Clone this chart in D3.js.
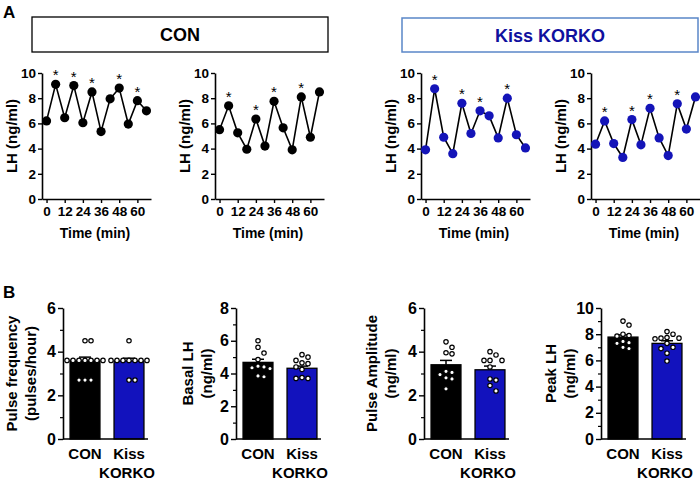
<!DOCTYPE html>
<html>
<head>
<meta charset="utf-8">
<script src="https://cdn.jsdelivr.net/npm/d3@7"></script>
<style>
  body { margin: 0; background: #fff; }
  svg { font-family: Arial, "Liberation Sans", sans-serif; font-weight: bold; }
</style>
</head>
<body>
<div id="chart"></div>
<script>
var svgWidth = 700;
var svgHeight = 486;

// Panel A: LH time series (ng/ml), sampled every 6 min
var times = [0, 6, 12, 18, 24, 30, 36, 42, 48, 54, 60, 66];
var timeTicks = [0, 12, 24, 36, 48, 60];
var conLH1 = [6.2, 9.1, 6.45, 9.0, 6.05, 8.5, 5.35, 7.95, 8.8, 5.95, 7.8, 7.0];
var conLH2 = [5.5, 7.4, 5.25, 3.95, 6.35, 4.2, 7.75, 5.65, 3.9, 8.1, 4.9, 8.5];
var korkoLH1 = [3.9, 8.75, 4.9, 3.6, 7.6, 5.2, 7.0, 6.6, 4.85, 8.0, 5.1, 4.05];
var korkoLH2 = [4.35, 6.2, 4.4, 3.3, 6.3, 4.3, 7.2, 4.85, 3.45, 7.55, 5.55, 8.1];
// indices of detected pulses (asterisks)
var conPulses1 = [1, 3, 5, 8, 10];
var conPulses2 = [1, 4, 6, 9];
var korkoPulses1 = [1, 4, 6, 9];
var korkoPulses2 = [1, 4, 6, 9];

// Panel B: group summaries
var groups = ["CON", "Kiss KORKO"];
var freqMean = [3.6, 3.58];
var freqSem = [0.15, 0.12];
var freqCon = [4.5, 4.5, 3.6, 3.6, 3.6, 3.6, 3.6, 3.6, 3.6, 2.7, 2.7, 2.7];
var freqKorko = [4.5, 3.6, 3.6, 3.6, 3.6, 3.6, 3.6, 3.6, 2.7, 2.7];

var basalMean = [4.68, 4.32];
var basalSem = [0.19, 0.13];
var basalCon = [6.0, 5.6, 5.25, 4.85, 4.45, 4.4, 4.35, 4.3, 3.85, 3.8];
var basalKorko = [5.15, 5.0, 4.8, 4.65, 4.6, 4.4, 4.25, 3.75, 3.7, 3.7];

var ampMean = [3.4, 3.17];
var ampSem = [0.2, 0.17];
var ampCon = [4.45, 4.2, 3.95, 3.9, 3.1, 3.05, 2.95, 2.8, 2.75, 2.3];
var ampKorko = [4.0, 3.85, 3.6, 3.6, 3.6, 3.3, 2.75, 2.7, 2.45, 2.2];

var peakMean = [7.78, 7.3];
var peakSem = [0.17, 0.2];
var peakCon = [9.0, 8.7, 8.0, 7.9, 7.85, 7.45, 7.35, 7.3, 7.0, 6.9];
var peakKorko = [8.2, 8.0, 7.75, 7.7, 7.7, 7.65, 7.3, 7.0, 6.9, 6.55, 5.95];

var blue = "#1414b8";
var barColors = ["#000", "#1212bd"];

var svg = d3.select("#chart")
  .append("svg")
  .attr("width", svgWidth)
  .attr("height", svgHeight);

// panel letters
svg.append("text").attr("x", 3).attr("y", 18).style("font-size", "17px").text("A");
svg.append("text").attr("x", 3).attr("y", 298).style("font-size", "17px").text("B");

// group header boxes
svg.append("rect").attr("x", 32).attr("y", 17).attr("width", 296).attr("height", 35)
  .attr("fill", "none").attr("stroke", "#000").attr("stroke-width", 1.3);
svg.append("text").attr("x", 180).attr("y", 41).attr("text-anchor", "middle")
  .style("font-size", "18px").text("CON");
svg.append("rect").attr("x", 402).attr("y", 18).attr("width", 296).attr("height", 34)
  .attr("fill", "none").attr("stroke", "#5a86c8").attr("stroke-width", 1.5);
svg.append("text").attr("x", 550).attr("y", 42).attr("text-anchor", "middle")
  .attr("fill", "#10109e").style("font-size", "18px").text("Kiss KORKO");

function styleAxis(g, size) {
  g.selectAll("path.domain").attr("stroke-width", 1.6);
  g.selectAll(".tick line").attr("stroke-width", 1.4);
  g.selectAll(".tick text").style("font-size", size).style("font-weight", "bold")
    .attr("font-family", null);
}

function linePanel(axisX, values, pulses, color) {
  var top = 73, bottom = 199;
  var x = d3.scaleLinear().domain([-3, 69]).range([axisX, axisX + 109]);
  var y = d3.scaleLinear().domain([0, 10]).range([bottom, top]);

  var gx = svg.append("g")
    .attr("transform", `translate(0, ${bottom})`)
    .call(d3.axisBottom(x).tickValues(timeTicks).tickSize(4).tickSizeOuter(0).tickPadding(3));
  styleAxis(gx, "13.5px");

  var gy = svg.append("g")
    .attr("transform", `translate(${axisX}, 0)`)
    .call(d3.axisLeft(y).tickValues([0, 2, 4, 6, 8, 10]).tickSize(4).tickSizeOuter(0).tickPadding(2));
  styleAxis(gy, "13.5px");

  var line = d3.line()
    .x((d, i) => x(times[i]))
    .y(d => y(d));

  svg.append("path")
    .datum(values)
    .attr("d", line)
    .attr("fill", "none")
    .attr("stroke", "#000")
    .attr("stroke-width", 1.6);

  svg.append("g").selectAll("circle")
    .data(values)
    .enter()
    .append("circle")
    .attr("cx", (d, i) => x(times[i]))
    .attr("cy", d => y(d))
    .attr("r", 4.6)
    .attr("fill", color);

  svg.append("g").selectAll("text")
    .data(pulses)
    .enter()
    .append("text")
    .attr("x", i => x(times[i]))
    .attr("y", i => y(values[i]) - 4)
    .attr("text-anchor", "middle")
    .style("font-size", "15px")
    .style("font-weight", "normal")
    .text("*");

  svg.append("text")
    .attr("transform", `translate(${axisX - 30}, ${(top + bottom) / 2}) rotate(-90)`)
    .attr("text-anchor", "middle")
    .attr("dy", "0.35em")
    .style("font-size", "15px")
    .text("LH (ng/ml)");

  svg.append("text")
    .attr("x", axisX + 53)
    .attr("y", 238)
    .attr("text-anchor", "middle")
    .style("font-size", "14px")
    .text("Time (min)");
}

linePanel(42, conLH1, conPulses1, "#000");
linePanel(215, conLH2, conPulses2, "#000");
linePanel(421, korkoLH1, korkoPulses1, blue);
linePanel(591, korkoLH2, korkoPulses2, blue);

// simple horizontal spread of points that share a level
function spread(vals, x0, yScale, r) {
  var placed = [];
  vals.forEach(v => {
    var cy = yScale(v);
    var step = 2 * r + 1.6;
    for (var k = 0; k < 40; k++) {
      var off = (k % 2 ? 1 : -1) * Math.ceil(k / 2) * step;
      if (k === 0) off = 0;
      var cx = x0 + off;
      var hit = placed.some(p => Math.hypot(p.cx - cx, p.cy - cy) < step - 0.2);
      if (!hit) { placed.push({cx: cx, cy: cy}); break; }
    }
  });
  return placed;
}

function barPanel(axisX, labelX, labelLines, maxY, means, sems, pts) {
  var top = 308, bottom = 439;
  var x = d3.scaleBand().domain(groups).range([axisX, axisX + 88])
    .paddingInner(0.32).paddingOuter(0.16);
  var y = d3.scaleLinear().domain([0, maxY]).range([bottom, top]);

  // error bars (upper only)
  groups.forEach((g, i) => {
    var cx = x(g) + x.bandwidth() / 2;
    svg.append("line").attr("x1", cx).attr("x2", cx)
      .attr("y1", y(means[i])).attr("y2", y(means[i] + sems[i]))
      .attr("stroke", "#000").attr("stroke-width", 1.5);
    svg.append("line").attr("x1", cx - 6).attr("x2", cx + 6)
      .attr("y1", y(means[i] + sems[i])).attr("y2", y(means[i] + sems[i]))
      .attr("stroke", "#000").attr("stroke-width", 1.5);
  });

  svg.append("g").selectAll("rect")
    .data(means)
    .enter()
    .append("rect")
    .attr("x", (d, i) => x(groups[i]))
    .attr("y", d => y(d))
    .attr("width", x.bandwidth())
    .attr("height", d => bottom - y(d))
    .attr("fill", (d, i) => barColors[i])
    .attr("stroke", "#000")
    .attr("stroke-width", 1.3);

  pts.forEach((vals, i) => {
    var cx0 = x(groups[i]) + x.bandwidth() / 2;
    var placed = spread(vals, cx0, y, 2.2);
    svg.append("g").selectAll("circle")
      .data(placed)
      .enter()
      .append("circle")
      .attr("cx", d => d.cx)
      .attr("cy", d => d.cy)
      .attr("r", 2.2)
      .attr("fill", "#fff")
      .attr("stroke", "#000")
      .attr("stroke-width", 1.2);
  });

  var majors = d3.range(0, maxY + 1, 2);
  var minors = d3.range(1, maxY, 2);
  var gMinor = svg.append("g")
    .attr("transform", `translate(${axisX}, 0)`)
    .call(d3.axisLeft(y).tickValues(minors).tickSize(3).tickFormat(""));
  gMinor.select("path.domain").remove();
  gMinor.selectAll(".tick line").attr("stroke-width", 1.2);

  var gy = svg.append("g")
    .attr("transform", `translate(${axisX}, 0)`)
    .call(d3.axisLeft(y).tickValues(majors).tickFormat(d3.format("d"))
      .tickSize(5).tickSizeOuter(0).tickPadding(2));
  styleAxis(gy, "16px");

  svg.append("line")
    .attr("x1", axisX).attr("x2", axisX + 85)
    .attr("y1", bottom).attr("y2", bottom)
    .attr("stroke", "#000").attr("stroke-width", 1.6);

  // category labels
  svg.append("text")
    .attr("x", x(groups[0]) + x.bandwidth() / 2).attr("y", 459)
    .attr("text-anchor", "middle").style("font-size", "15px").text("CON");
  svg.append("text")
    .attr("x", x(groups[1]) + x.bandwidth() / 2).attr("y", 459)
    .attr("text-anchor", "middle").style("font-size", "15px").text("Kiss");
  svg.append("text")
    .attr("x", x(groups[1]) + x.bandwidth() / 2 - 2).attr("y", 478)
    .attr("text-anchor", "middle").style("font-size", "15px").text("KORKO");

  // y label, two lines
  var lbl = svg.append("text")
    .attr("transform", `translate(${labelX}, ${(top + bottom) / 2}) rotate(-90)`)
    .attr("text-anchor", "middle")
    .style("font-size", "15px");
  lbl.append("tspan").attr("x", 0).attr("dy", "0.35em").text(labelLines[0]);
  lbl.append("tspan").attr("x", 0).attr("dy", "1.25em").text(labelLines[1]);
}

barPanel(63, 12, ["Pulse frequency", "(pulses/hour)"], 6, freqMean, freqSem, [freqCon, freqKorko]);
barPanel(236, 188, ["Basal LH", "(ng/ml)"], 8, basalMean, basalSem, [basalCon, basalKorko]);
barPanel(424, 372, ["Pulse Amplitude", "(ng/ml)"], 6, ampMean, ampSem, [ampCon, ampKorko]);
barPanel(601, 551, ["Peak LH", "(ng/ml)"], 10, peakMean, peakSem, [peakCon, peakKorko]);
</script>
</body>
</html>
